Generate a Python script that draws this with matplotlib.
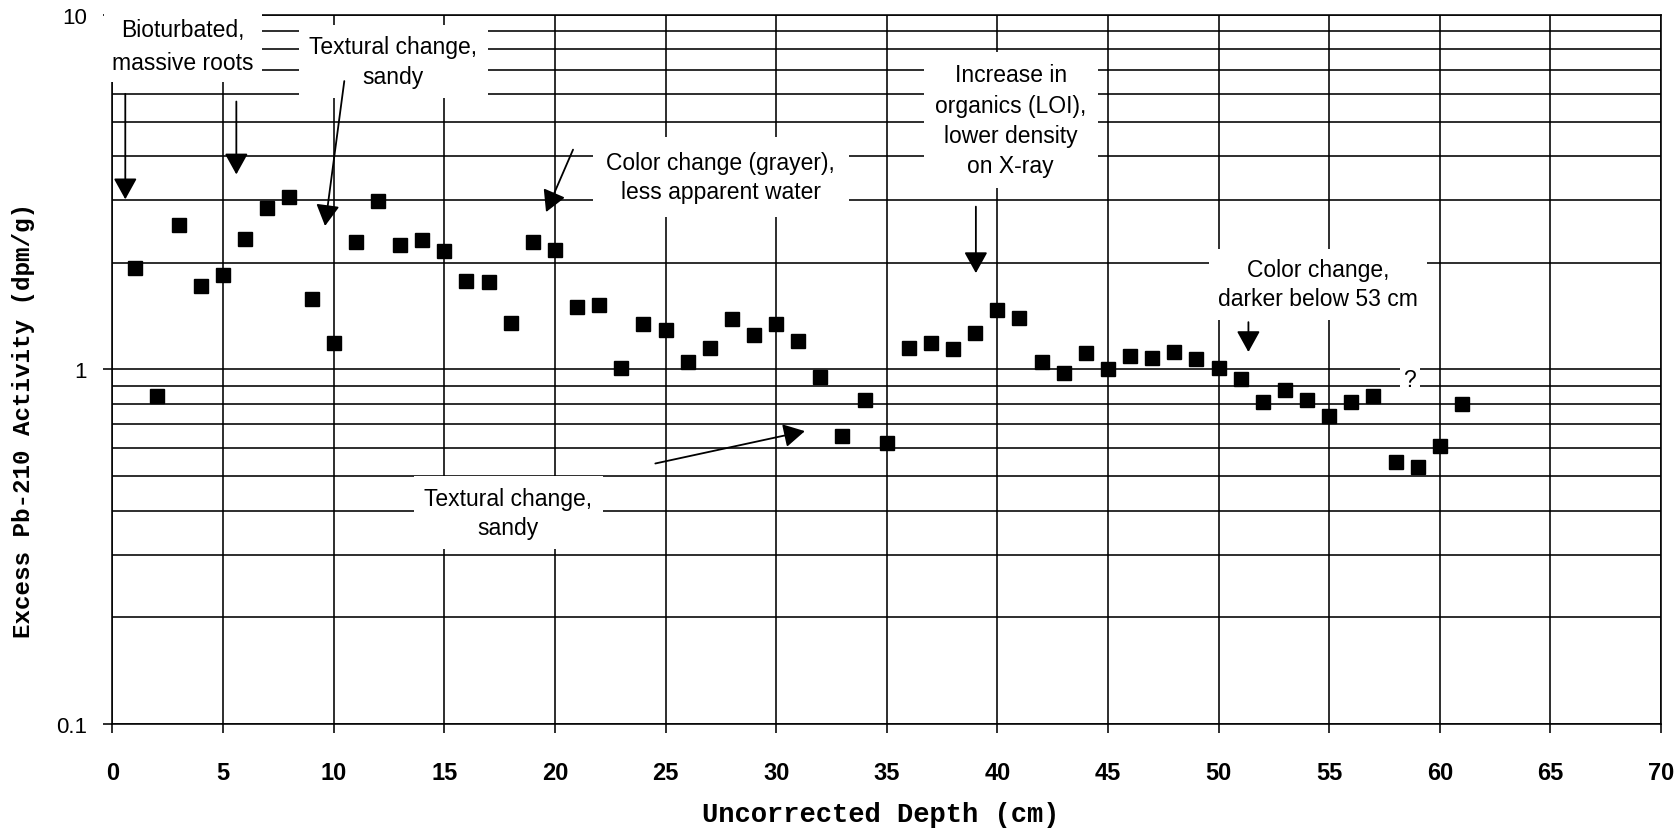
import matplotlib
matplotlib.use("Agg")
import matplotlib.pyplot as plt
from matplotlib.ticker import LogLocator, NullFormatter

plt.rcParams['font.family'] = ['Liberation Sans', 'DejaVu Sans']

# core depth (cm) and excess Pb-210 activity (dpm/g)
depth = list(range(1, 62))
activity = [1.93, 0.84, 2.56, 1.72, 1.85, 2.33, 2.86, 3.06, 1.58, 1.19,
            2.29, 2.98, 2.24, 2.32, 2.16, 1.78, 1.77, 1.35, 2.29, 2.18,
            1.50, 1.52, 1.01, 1.34, 1.29, 1.05, 1.15, 1.39, 1.25, 1.34,
            1.20, 0.955, 0.65, 0.82, 0.62, 1.15, 1.19, 1.14, 1.27, 1.47,
            1.40, 1.05, 0.975, 1.11, 1.00, 1.09, 1.08, 1.12, 1.07, 1.01,
            0.94, 0.81, 0.873, 0.82, 0.74, 0.81, 0.84, 0.55, 0.53, 0.61,
            0.80]

x_ticks = [0, 5, 10, 15, 20, 25, 30, 35, 40, 45, 50, 55, 60, 65, 70]
x_tick_labels = [str(v) for v in x_ticks]
y_ticks = [0.1, 1, 10]
y_tick_labels = ["0.1", "1", "10"]

# notes: text, anchor (depth, activity), line spacing, box pad
note_text = ["Bioturbated,\nmassive roots",
             "Textural change,\nsandy",
             "Color change (grayer),\nless apparent water",
             "Increase in\norganics (LOI),\nlower density\non X-ray",
             "Color change,\ndarker below 53 cm",
             "?",
             "Textural change,\nsandy"]
note_xy = [(3.2, 8.2), (12.7, 7.4), (27.5, 3.49), (40.6, 5.05),
           (54.5, 1.74), (58.65, 0.936), (17.9, 0.394)]
note_spacing = [1.55, 1.35, 1.35, 1.4, 1.35, 1.0, 1.35]
note_pad = [0.35, 0.45, 0.6, 0.5, 0.4, 0.15, 0.45]

# arrows: (tail, tip) in data coordinates
arrow_tail = [(0.58, 5.99), (5.6, 5.70), (10.48, 6.51), (20.82, 4.17),
              (39.03, 2.88), (51.35, 1.36), (24.54, 0.543)]
arrow_tip = [(0.58, 3.02), (5.6, 3.55), (9.61, 2.54), (19.6, 2.78),
             (39.03, 1.87), (51.35, 1.12), (31.3, 0.67)]

fig = plt.figure(figsize=(16.81, 8.29), dpi=100)
ax = fig.add_axes([0.0669, 0.1255, 0.9212, 0.8552])

ax.set_yscale("log")
ax.set_xlim(0, 70)
ax.set_ylim(0.1, 10)

ax.plot(depth, activity, linestyle="none", marker="s", markersize=9.5,
        color="black", zorder=5, clip_on=False)

ax.set_xticks(x_ticks, labels=x_tick_labels, fontsize=17, fontweight="bold")
ax.set_yticks(y_ticks, labels=y_tick_labels, fontsize=16)
ax.yaxis.set_minor_locator(LogLocator(base=10, subs=[2, 3, 4, 5, 6, 7, 8, 9]))
ax.yaxis.set_minor_formatter(NullFormatter())

ax.grid(True, which="major", color="black", linewidth=1.15)
ax.grid(True, which="minor", axis="y", color="black", linewidth=1.15)
ax.tick_params(axis="y", which="minor", length=0)
ax.tick_params(axis="x", which="major", direction="out", length=6.5, width=1.15,
               pad=20)
ax.tick_params(axis="y", which="major", direction="out", length=6.5, width=1.15,
               pad=12)

for sp in ax.spines.values():
    sp.set_linewidth(1.15)

ax.set_xlabel("Uncorrected Depth (cm)", fontfamily="Liberation Mono",
              fontweight="bold", fontsize=19.5, va="center")
ax.xaxis.set_label_coords(0.496, -0.1276)
ax.set_ylabel("Excess Pb-210 Activity (dpm/g)", fontfamily="Liberation Mono",
              fontweight="bold", fontsize=17.5, va="center")
ax.yaxis.set_label_coords(-0.0574, 0.429)

for txt, (nx, ny), ls, pd in zip(note_text, note_xy, note_spacing, note_pad):
    ax.text(nx, ny, txt, ha="center", va="center", fontsize=16.5,
            linespacing=ls, zorder=3,
            bbox=dict(facecolor="white", edgecolor="none", pad=0,
                      boxstyle="square,pad=%g" % pd))

for (tx, ty), (hx, hy) in zip(arrow_tail, arrow_tip):
    ax.annotate("", xy=(hx, hy), xytext=(tx, ty), zorder=4,
                arrowprops=dict(arrowstyle="-|>,head_length=0.65,head_width=0.36",
                                mutation_scale=20, lw=1.3, color="black",
                                shrinkA=0, shrinkB=0))

fig.savefig("out.png", dpi=100)
